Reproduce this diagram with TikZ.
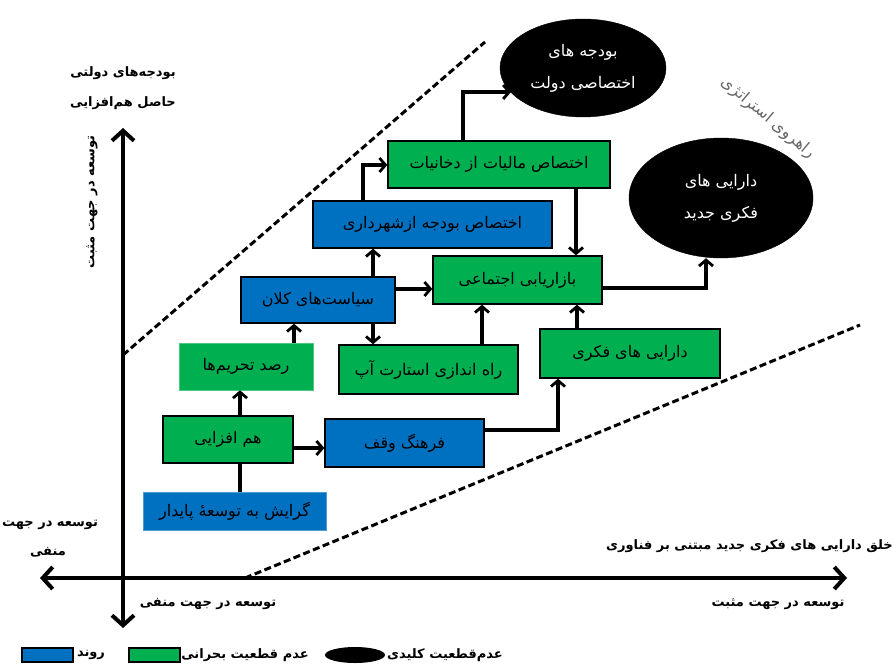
\documentclass[tikz,border=0pt]{standalone}
\usepackage{fontspec}
\newfontfamily\fa[Script=Arabic]{DejaVu Sans}
\TeXXeTstate=1
\usetikzlibrary{arrows.meta,shapes.geometric}
\newcommand{\rtl}[1]{\beginR #1\endR}
\definecolor{boxblue}{HTML}{0070C0}
\definecolor{boxgreen}{HTML}{00B050}
\tikzset{
  bx/.style={rectangle, draw=black, line width=1.4pt, inner sep=0pt, font=\fa\fontsize{16}{18}\selectfont, text=black},
  bbox/.style={bx, fill=boxblue},
  gbox/.style={bx, fill=boxgreen},
  blk/.style={ellipse, fill=black, draw=black, inner sep=0pt, align=center, text=white, font=\fa\fontsize{16}{32}\selectfont},
  conn/.style={line width=3.2pt, draw=black},
  arr/.style={conn, -{Straight Barb[length=6pt,width=14pt,line width=2.8pt]}},
  axis/.style={line width=4.5pt, {Straight Barb[length=10pt,width=22pt,line width=4pt]}-{Straight Barb[length=10pt,width=22pt,line width=4pt]}},
  dsh/.style={line width=3pt, dash pattern=on 7pt off 3.5pt},
  lbl/.style={font=\fa\bfseries\fontsize{13}{15}\selectfont, text=black, inner sep=0pt},
}
\begin{document}
\begin{tikzpicture}[x=1pt,y=-1pt]
\useasboundingbox (0,0) rectangle (893,668);
% dashed corridor
\coordinate (d1a) at (123,355); \coordinate (d1b) at (485,42);
\coordinate (d2a) at (245,578); \coordinate (d2b) at (860,325);
\draw[dsh] (d1a) -- (d1b);
\draw[dsh] (d2a) -- (d2b);
% axes
\coordinate (vt) at (123,128); \coordinate (vb) at (123,628);
\coordinate (hl) at (40,578); \coordinate (hr) at (847,578);
\draw[axis] (vb) -- (vt);
\draw[axis] (hl) -- (hr);
% boxes
\node[gbox, minimum width=222pt, minimum height=47pt] (maliat) at (499,164.5) {\rtl{اختصاص مالیات از دخانیات}};
\node[bbox, minimum width=239pt, minimum height=47pt] (budje) at (432.5,224.5) {\rtl{اختصاص بودجه ازشهرداری}};
\node[bbox, minimum width=154pt, minimum height=46pt] (siasat) at (318,300) {\rtl{سیاست‌های کلان}};
\node[gbox, minimum width=169pt, minimum height=48pt] (bazar) at (517.5,280) {\rtl{بازاریابی اجتماعی}};
\node[gbox, draw=boxgreen!70!white, line width=0.6pt, minimum width=134pt, minimum height=47pt] (rasad) at (246,366.5) {\rtl{رصد تحریم‌ها}};
\node[gbox, minimum width=179pt, minimum height=49pt] (startup) at (428.5,369.5) {\rtl{راه اندازی استارت آپ}};
\node[gbox, minimum width=180pt, minimum height=49pt] (darai) at (630,353.5) {\rtl{دارایی های فکری}};
\node[gbox, minimum width=130pt, minimum height=47pt] (hamafzai) at (228,439.5) {\rtl{هم افزایی}};
\node[bbox, minimum width=159pt, minimum height=48pt] (farhang) at (404.5,443) {\rtl{فرهنگ وقف}};
\node[bbox, draw=boxblue!70!white, line width=0.6pt, minimum width=183pt, minimum height=38pt] (gerayesh) at (234.5,511) {\rtl{گرایش به توسعهٔ پایدار}};
% ellipses
\node[blk, minimum width=166pt, minimum height=98pt] (e1) at (583,68) {\rtl{بودجه های}\\\rtl{اختصاصی دولت}};
\node[blk, minimum width=184pt, minimum height=120pt] (e2) at (721,198) {\rtl{دارایی های}\\\rtl{فکری جدید}};
% connectors
\draw[conn] (gerayesh.north -| 240,0) -- (hamafzai.south -| 240,0);
\draw[arr] (hamafzai.north -| 240,0) -- (rasad.south -| 240,0);
\draw[arr] (hamafzai.east |- 0,448) -- (farhang.west |- 0,448);
\draw[arr] (farhang.east |- 0,430) -| (darai.south -| 558,0);
\draw[arr] (rasad.north -| 294,0) -- (siasat.south -| 294,0);
\draw[arr] (siasat.east |- 0,289) -- (bazar.west |- 0,289);
\draw[arr] (siasat.south -| 373,0) -- (startup.north -| 373,0);
\draw[arr] (siasat.north -| 373,0) -- (budje.south -| 373,0);
\draw[arr] (startup.north -| 482,0) -- (bazar.south -| 482,0);
\draw[arr] (darai.north -| 577,0) -- (bazar.south -| 577,0);
\draw[arr] (maliat.south -| 576,0) -- (bazar.north -| 576,0);
\draw[arr] (budje.north -| 363,0) |- (maliat.west |- 0,165);
\draw[arr] (maliat.north -| 463,0) |- ([xshift=-72pt,yshift=-24pt]e1.center);
\draw[arr] (bazar.east |- 0,288) -| ([xshift=-15pt]e2.south);
% axis labels
\node[lbl] (l1) at (123,73) {\rtl{بودجه‌های دولتی}};
\node[lbl] (l2) at (123,103) {\rtl{حاصل هم‌افزایی}};
\node[lbl, rotate=90] (l3) at (92,202) {\rtl{توسعه در جهت مثبت}};
\node[lbl] (l4) at (50,525) {\rtl{توسعه در جهت}};
\node[lbl] (l5) at (48,552) {\rtl{منفی}};
\node[lbl] (l6) at (208,604) {\rtl{توسعه در جهت منفی}};
\node[lbl] (l7) at (778,604) {\rtl{توسعه در جهت مثبت}};
\node[lbl, anchor=east] (l8) at (893,546) {\rtl{خلق دارایی های فکری جدید مبتنی بر فناوری}};
\node[font=\fa\fontsize{16}{18}\selectfont, text=black!60, rotate=-40, inner sep=0pt] (l9) at (768,118) {\rtl{راهروی استراتژی}};
% legend
\node[rectangle, draw=black, line width=1.6pt, fill=boxblue, minimum width=51pt, minimum height=14pt, inner sep=0pt] (lgb) at (47.5,655) {};
\node[lbl] (lgbt) at (91,655) {\rtl{روند}};
\node[rectangle, draw=black, line width=1.6pt, fill=boxgreen, minimum width=51pt, minimum height=14pt, inner sep=0pt] (lgg) at (154.5,655) {};
\node[lbl] (lggt) at (245,655) {\rtl{عدم قطعیت بحرانی}};
\node[ellipse, fill=black, minimum width=60pt, minimum height=16pt, inner sep=0pt] (lge) at (355,655) {};
\node[lbl] (lget) at (445,655) {\rtl{عدم‌قطعیت کلیدی}};
\end{tikzpicture}
\end{document}
